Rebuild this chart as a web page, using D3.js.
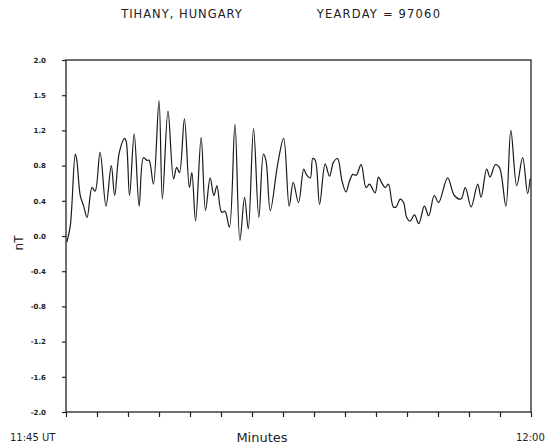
<!DOCTYPE html>
<html>
<head>
<meta charset="utf-8">
<script src="https://cdn.jsdelivr.net/npm/d3@7"></script>
<style>
  body { margin: 0; background: #fff; }
  text { font-family: "DejaVu Sans", sans-serif; fill: #222; }
</style>
</head>
<body>
<div id="plot-area"></div>
<script>
// Magnetometer trace, Tihany

// minutes after 11:45 UT
const minutes = [0.03, 0.14, 0.30, 0.35, 0.46, 0.57, 0.68, 0.84, 0.94, 1.10,
  1.29, 1.46, 1.57, 1.72, 1.89, 1.94, 2.05, 2.20, 2.36, 2.50,
  2.61, 2.68, 2.82, 3.00, 3.11, 3.29, 3.47, 3.57, 3.66, 3.82,
  3.98, 4.06, 4.18, 4.36, 4.50, 4.65, 4.77, 4.87, 5.02, 5.13,
  5.27, 5.45, 5.61, 5.76, 5.88, 6.05, 6.22, 6.37, 6.45, 6.59,
  6.83, 7.02, 7.20, 7.33, 7.50, 7.67, 7.75, 7.88, 7.96, 8.04,
  8.18, 8.36, 8.50, 8.63, 8.76, 8.90, 9.03, 9.15, 9.25, 9.36,
  9.52, 9.68, 9.79, 9.97, 10.08, 10.19, 10.30, 10.40, 10.56, 10.65,
  10.78, 10.89, 10.99, 11.10, 11.24, 11.38, 11.56, 11.70, 11.88, 12.02,
  12.31, 12.53, 12.74, 12.88, 13.07, 13.28, 13.39, 13.57, 13.68, 13.85,
  13.98, 14.19, 14.35, 14.54, 14.73, 14.89, 14.97];

// field values (nT)
const fieldNT = [-0.07, 0.12, 0.93, 0.86, 0.46, 0.34, 0.21, 0.55, 0.51, 0.95,
  0.34, 0.80, 0.46, 0.95, 1.11, 1.08, 0.46, 1.16, 0.34, 0.89,
  0.86, 0.86, 0.59, 1.54, 0.42, 1.42, 0.65, 0.78, 0.72, 1.33,
  0.55, 0.72, 0.17, 1.12, 0.29, 0.66, 0.46, 0.57, 0.27, 0.28,
  0.10, 1.27, -0.05, 0.44, 0.08, 1.22, 0.21, 0.93, 0.86, 0.29,
  0.82, 1.11, 0.34, 0.61, 0.38, 0.76, 0.70, 0.66, 0.88, 0.86,
  0.36, 0.82, 0.68, 0.84, 0.88, 0.63, 0.50, 0.63, 0.70, 0.69,
  0.81, 0.55, 0.59, 0.49, 0.67, 0.60, 0.55, 0.59, 0.33, 0.33,
  0.42, 0.38, 0.21, 0.17, 0.24, 0.14, 0.34, 0.23, 0.46, 0.38,
  0.66, 0.46, 0.42, 0.55, 0.33, 0.59, 0.44, 0.76, 0.67, 0.81,
  0.78, 0.34, 1.20, 0.57, 0.89, 0.48, 0.65];

const yTicks = [-2.0, -1.6, -1.2, -0.8, -0.4, 0.0, 0.4, 0.8, 1.2, 1.6, 2.0];
const yTickLabels = ["-2.0", "-1.6", "-1.2", "-0.8", "-0.4", "0.0", "0.4", "0.8", "1.2", "1.5", "2.0"];
const xTicks = d3.range(0, 16);

const svg = d3.select("#plot-area").
append("svg").
attr("width", 547).
attr("height", 445);

const pL = 66, pR = 531, pT = 60, pB = 412;

const xScale = d3.scaleLinear().
domain([0, 15]).
range([pL, pR]);

const yScale = d3.scaleLinear().
domain([-2, 2]).
range([pB, pT]);

// frame
svg.append("rect").
attr("x", pL).
attr("y", pT).
attr("width", pR - pL).
attr("height", pB - pT).
attr("fill", "none").
attr("stroke", "#222").
attr("stroke-width", 1.3);

// axes
const yAxis = d3.axisLeft(yScale).
tickValues(yTicks).
tickFormat((d, i) => yTickLabels[i]).
tickSize(4).
tickPadding(16);

svg.append("g").
attr("transform", `translate(${pL} 0)`).
call(yAxis).
call(g => g.select(".domain").remove()).
call(g => g.selectAll("line").attr("stroke", "#222").attr("stroke-width", 1.2)).
call(g => g.selectAll("text").
  attr("font-size", 7).
  attr("font-weight", "bold").
  attr("fill", "#333"));

const xAxis = d3.axisBottom(xScale).
tickValues(xTicks).
tickFormat("").
tickSize(5);

svg.append("g").
attr("transform", `translate(0 ${pB})`).
call(xAxis).
call(g => g.select(".domain").remove()).
call(g => g.selectAll("line").attr("stroke", "#222").attr("stroke-width", 1.2));

// trace
const data = minutes.map((m, i) => ({ m: m, v: fieldNT[i] }));

const line = d3.line().
x(d => xScale(d.m)).
y(d => yScale(d.v)).
curve(d3.curveCatmullRom.alpha(0.5));

svg.append("path").
datum(data).
attr("d", line).
attr("fill", "none").
attr("stroke", "#1a1a1a").
attr("stroke-width", 1.2).
attr("stroke-linejoin", "round");

// titles and labels
svg.append("text").
text("TIHANY, HUNGARY").
attr("x", 182).
attr("y", 18).
attr("text-anchor", "middle").
attr("font-size", 11.5).
attr("letter-spacing", 1).
attr("fill", "#444");

svg.append("text").
text("YEARDAY = 97060").
attr("x", 379).
attr("y", 18).
attr("text-anchor", "middle").
attr("font-size", 11.5).
attr("letter-spacing", 1.2).
attr("fill", "#444");

svg.append("text").
text("nT").
attr("transform", "translate(23 243) rotate(-90)").
attr("text-anchor", "middle").
attr("font-size", 12);

svg.append("text").
text("11:45 UT").
attr("x", 10).
attr("y", 441).
attr("font-size", 10);

svg.append("text").
text("Minutes").
attr("x", 262).
attr("y", 442).
attr("text-anchor", "middle").
attr("font-size", 13).
attr("fill", "#333");

svg.append("text").
text("12:00").
attr("x", 516).
attr("y", 441).
attr("font-size", 10);
</script>
</body>
</html>
